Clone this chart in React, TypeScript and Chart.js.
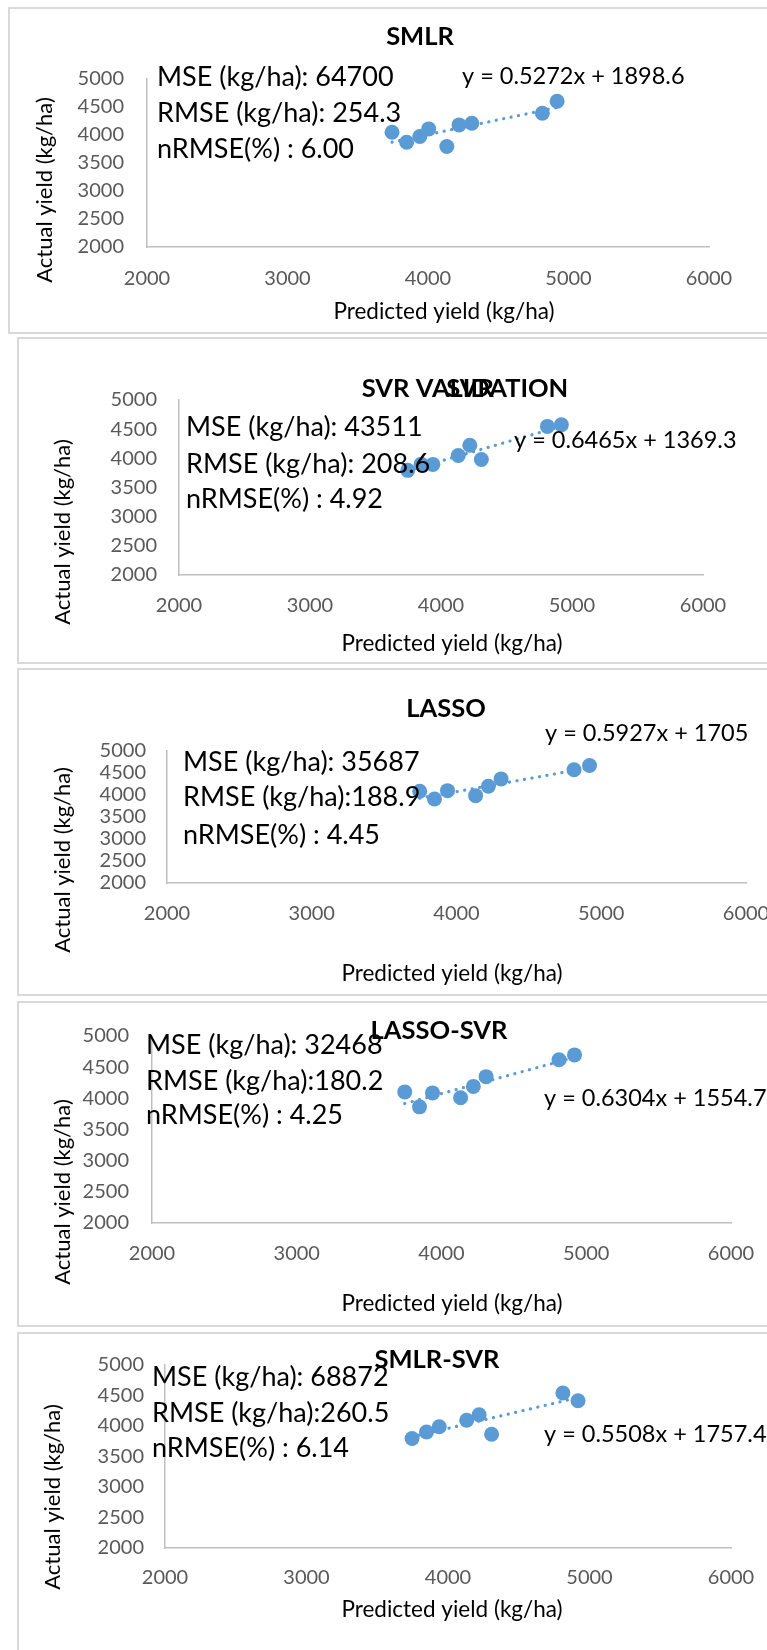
import React, { useEffect, useRef } from "react";
import { Chart, registerables } from "chart.js";

Chart.register(...registerables);

// ---------------- DATA ----------------
const PANEL_TITLES = ["SMLR", "SVR VALIDATION", "LASSO", "LASSO-SVR", "SMLR-SVR"];

// predicted yield (x) per panel
const predSMLR = [3744, 3848, 3942, 4005, 4134, 4221, 4312, 4814, 4919];
const predOther = [3746, 3848, 3938, 4132, 4220, 4308, 4812, 4919];

// actual yield (y) per panel
const actSMLR = [4050, 3871, 3972, 4109, 3794, 4180, 4210, 4388, 4602];
const actSVR = [3794, 3900, 3896, 4049, 4224, 3981, 4547, 4575];
const actLASSO = [4084, 3908, 4099, 3985, 4198, 4366, 4573, 4672];
const actLASSOSVR = [4103, 3863, 4087, 4009, 4191, 4348, 4619, 4697];
const actSMLRSVR = [3796, 3902, 3987, 4094, 4185, 3865, 4542, 4414];

const PRED = [predSMLR, predOther, predOther, predOther, predOther];
const ACTUAL = [actSMLR, actSVR, actLASSO, actLASSOSVR, actSMLRSVR];

const SLOPES = [0.5272, 0.6465, 0.5927, 0.6304, 0.5508];
const INTERCEPTS = [1898.6, 1369.3, 1705, 1554.7, 1757.4];

const MSE_LABELS = [
  "MSE (kg/ha): 64700",
  "MSE (kg/ha): 43511",
  "MSE (kg/ha): 35687",
  "MSE (kg/ha): 32468",
  "MSE (kg/ha): 68872",
];
const RMSE_LABELS = [
  "RMSE (kg/ha): 254.3",
  "RMSE (kg/ha): 208.6",
  "RMSE (kg/ha):188.9",
  "RMSE (kg/ha):180.2",
  "RMSE (kg/ha):260.5",
];
const NRMSE_LABELS = [
  "nRMSE(%) : 6.00",
  "nRMSE(%) : 4.92",
  "nRMSE(%) : 4.45",
  "nRMSE(%) : 4.25",
  "nRMSE(%) : 6.14",
];

const X_MIN = 2000, X_MAX = 6000, X_STEP = 1000;
const Y_MIN = 2000, Y_MAX = 5000, Y_STEP = 500;
const X_AXIS_TITLE = "Predicted yield (kg/ha)";
const Y_AXIS_TITLE = "Actual yield (kg/ha)";

// ---------------- LAYOUT ----------------
const BLUE = "#5B9BD5";
const FONT = "Lato, 'Open Sans', sans-serif";
const CANVAS_W = 820;

// measured text widths (px) in the reference, used to size the font
const W_ANN = [234, 242, 196]; // the three SMLR statistic lines
const W_EQ = 222; // "y = 0.5272x + 1898.6"
const W_TICK = 46; // "5000"
const W_XTITLE = 219;
const W_YTITLE = 186;
const W_TITLE = 207; // "SVR VALIDATION"

let measureCtx: CanvasRenderingContext2D | null = null;
function fit(text: string, target: number, weight = "normal") {
  if (!measureCtx) measureCtx = document.createElement("canvas").getContext("2d");
  const ctx = measureCtx!;
  ctx.font = `${weight} 100px ${FONT}`;
  const w = ctx.measureText(text).width || 1;
  return Math.round((100 * target) / w * 2) / 2;
}

type Geom = {
  top: number; h: number;
  L: number; R: number; T: number; B: number;
  yPad: number; xPad: number;
  titles: { t: string; x: number; y: number }[];
  ann: { x: number; ys: number[] };
  eq: { x: number; y: number };
  xt: { x: number; y: number };
  yt: { x: number; y: number };
  box: { left: number; top: number; height: number };
};

const GEOM: Geom[] = [
  {
    top: 7, h: 326, L: 147, R: 709, T: 79, B: 247, yPad: 23, xPad: 20,
    titles: [{ t: PANEL_TITLES[0], x: 420, y: 37 }],
    ann: { x: 157, ys: [77, 113, 149] }, eq: { x: 462, y: 76 },
    xt: { x: 444, y: 312 }, yt: { x: 45, y: 190 },
    box: { left: 8, top: 7, height: 327 },
  },
  {
    top: 337, h: 326, L: 179, R: 703, T: 400, B: 575, yPad: 22, xPad: 19,
    titles: [{ t: PANEL_TITLES[1], x: 465, y: 389 }, { t: "SVR", x: 470, y: 389 }],
    ann: { x: 186, ys: [427, 464, 499] }, eq: { x: 514, y: 440 },
    xt: { x: 452, y: 644 }, yt: { x: 63, y: 532 },
    box: { left: 17, top: 337, height: 327 },
  },
  {
    top: 669, h: 326, L: 167, R: 746, T: 751, B: 883, yPad: 21, xPad: 19,
    titles: [{ t: PANEL_TITLES[2], x: 446, y: 709 }],
    ann: { x: 183, ys: [762, 797, 835] }, eq: { x: 545, y: 733 },
    xt: { x: 452, y: 974 }, yt: { x: 63, y: 860 },
    box: { left: 17, top: 668, height: 328 },
  },
  {
    top: 1001, h: 325, L: 152, R: 731, T: 1027, B: 1223, yPad: 23, xPad: 19,
    titles: [{ t: PANEL_TITLES[3], x: 439, y: 1031 }],
    ann: { x: 146, ys: [1045, 1081, 1115] }, eq: { x: 544, y: 1098 },
    xt: { x: 452, y: 1304 }, yt: { x: 63, y: 1192 },
    box: { left: 17, top: 1001, height: 326 },
  },
  {
    top: 1332, h: 318, L: 165, R: 731, T: 1359, B: 1548, yPad: 21, xPad: 18,
    titles: [{ t: PANEL_TITLES[4], x: 437, y: 1360 }],
    ann: { x: 152, ys: [1377, 1413, 1448] }, eq: { x: 544, y: 1434 },
    xt: { x: 452, y: 1610 }, yt: { x: 53, y: 1497 },
    box: { left: 17, top: 1332, height: 400 },
  },
];

const HX = 60;
const WY = 100;

function Panel({ idx }: { idx: number }) {
  const ref = useRef<HTMLCanvasElement>(null);
  const g = GEOM[idx];

  useEffect(() => {
    const canvas = ref.current;
    if (!canvas) return;

    const annLines0 = [MSE_LABELS[0], RMSE_LABELS[0], NRMSE_LABELS[0]];
    const annSize =
      Math.round(
        (annLines0.reduce((s, t, i) => s + fit(t, W_ANN[i]), 0) / annLines0.length) * 2
      ) / 2;
    const eqSize = fit(`y = ${SLOPES[0]}x + ${INTERCEPTS[0]}`, W_EQ);
    const tickSize = fit("5000", W_TICK);
    const xtSize = fit(X_AXIS_TITLE, W_XTITLE);
    const ytSize = fit(Y_AXIS_TITLE, W_YTITLE);
    const titleSize = fit(PANEL_TITLES[1], W_TITLE, "bold");

    const xs = PRED[idx];
    const ys = ACTUAL[idx];
    const pts = xs.map((x, i) => ({ x, y: ys[i] }));
    const x0 = Math.min(...xs);
    const x1 = Math.max(...xs);
    const trend = [x0, x1].map((x) => ({ x, y: SLOPES[idx] * x + INTERCEPTS[idx] }));
    const top = g.top;

    const textPlugin = {
      id: "panelText" + idx,
      afterDraw(chart: any) {
        const ctx = chart.ctx;
        ctx.save();
        ctx.fillStyle = "#000";
        ctx.textBaseline = "middle";
        // titles
        ctx.font = `bold ${titleSize}px ${FONT}`;
        ctx.textAlign = "center";
        g.titles.forEach((t) => ctx.fillText(t.t, t.x, t.y - top));
        // annotations
        ctx.font = `${annSize}px ${FONT}`;
        ctx.textAlign = "left";
        const lines = [MSE_LABELS[idx], RMSE_LABELS[idx], NRMSE_LABELS[idx]];
        lines.forEach((s, i) => ctx.fillText(s, g.ann.x, g.ann.ys[i] - top));
        // equation
        ctx.font = `${eqSize}px ${FONT}`;
        const eq = `y = ${SLOPES[idx]}x + ${INTERCEPTS[idx]}`;
        ctx.fillText(eq, g.eq.x, g.eq.y - top);
        // axis titles
        ctx.font = `${xtSize}px ${FONT}`;
        ctx.textAlign = "center";
        ctx.fillText(X_AXIS_TITLE, g.xt.x, g.xt.y - top);
        ctx.font = `${ytSize}px ${FONT}`;
        ctx.translate(g.yt.x, g.yt.y - top);
        ctx.rotate(-Math.PI / 2);
        ctx.fillText(Y_AXIS_TITLE, 0, 0);
        ctx.restore();
      },
    };

    const padTop = g.T - top;
    const padBottom = g.h - (g.B - top) - HX;
    const padLeft = g.L - WY;
    const padRight = CANVAS_W - g.R;

    const chart = new Chart(canvas, {
      type: "scatter",
      data: {
        datasets: [
          {
            data: trend,
            showLine: true,
            borderColor: BLUE,
            borderWidth: 3.2,
            borderDash: [0.1, 7.5],
            borderCapStyle: "round",
            pointRadius: 0,
            fill: false,
            order: 2,
          } as any,
          {
            data: pts,
            backgroundColor: BLUE,
            borderColor: BLUE,
            borderWidth: 0,
            pointRadius: 7.5,
            order: 1,
          },
        ],
      },
      options: {
        animation: false,
        responsive: false,
        devicePixelRatio: 1,
        events: [],
        layout: { padding: { top: padTop, bottom: padBottom, left: padLeft, right: padRight } },
        plugins: {
          legend: { display: false },
          tooltip: { enabled: false },
          title: { display: false },
        },
        scales: {
          x: {
            type: "linear",
            position: "bottom",
            min: X_MIN,
            max: X_MAX,
            ticks: {
              stepSize: X_STEP,
              padding: g.xPad,
              color: "#595959",
              font: { family: FONT, size: tickSize },
              maxRotation: 0,
              autoSkip: false,
              callback: (v: any) => `${v}`,
            },
            grid: { display: true, drawOnChartArea: false, drawTicks: false, color: "rgba(0,0,0,0)" },
            border: { display: true, color: "#BFBFBF", width: 1.5 },
            afterFit: (s: any) => { s.height = HX; },
          },
          y: {
            type: "linear",
            position: "left",
            min: Y_MIN,
            max: Y_MAX,
            ticks: {
              stepSize: Y_STEP,
              padding: g.yPad,
              color: "#595959",
              font: { family: FONT, size: tickSize },
              autoSkip: false,
              callback: (v: any) => `${v}`,
            },
            grid: { display: true, drawOnChartArea: false, drawTicks: false, color: "rgba(0,0,0,0)" },
            border: { display: true, color: "#BFBFBF", width: 1.5 },
            afterFit: (s: any) => { s.width = WY; },
          },
        },
      },
      plugins: [textPlugin],
    } as any);
    return () => chart.destroy();
  }, [idx]);

  return (
    <canvas
      ref={ref}
      width={CANVAS_W}
      height={g.h}
      style={{ position: "absolute", left: 0, top: g.top, width: CANVAS_W, height: g.h }}
    />
  );
}

export default function App() {
  return (
    <div
      style={{
        position: "absolute",
        left: 0,
        top: 0,
        width: 767,
        height: 1650,
        overflow: "hidden",
        background: "#fff",
      }}
    >
      {GEOM.map((g, i) => (
        <div
          key={"b" + i}
          style={{
            position: "absolute",
            left: g.box.left,
            top: g.box.top,
            width: 820,
            height: g.box.height,
            border: "2px solid #D9D9D9",
            boxSizing: "border-box",
          }}
        />
      ))}
      {GEOM.map((_, i) => (
        <Panel key={i} idx={i} />
      ))}
    </div>
  );
}
